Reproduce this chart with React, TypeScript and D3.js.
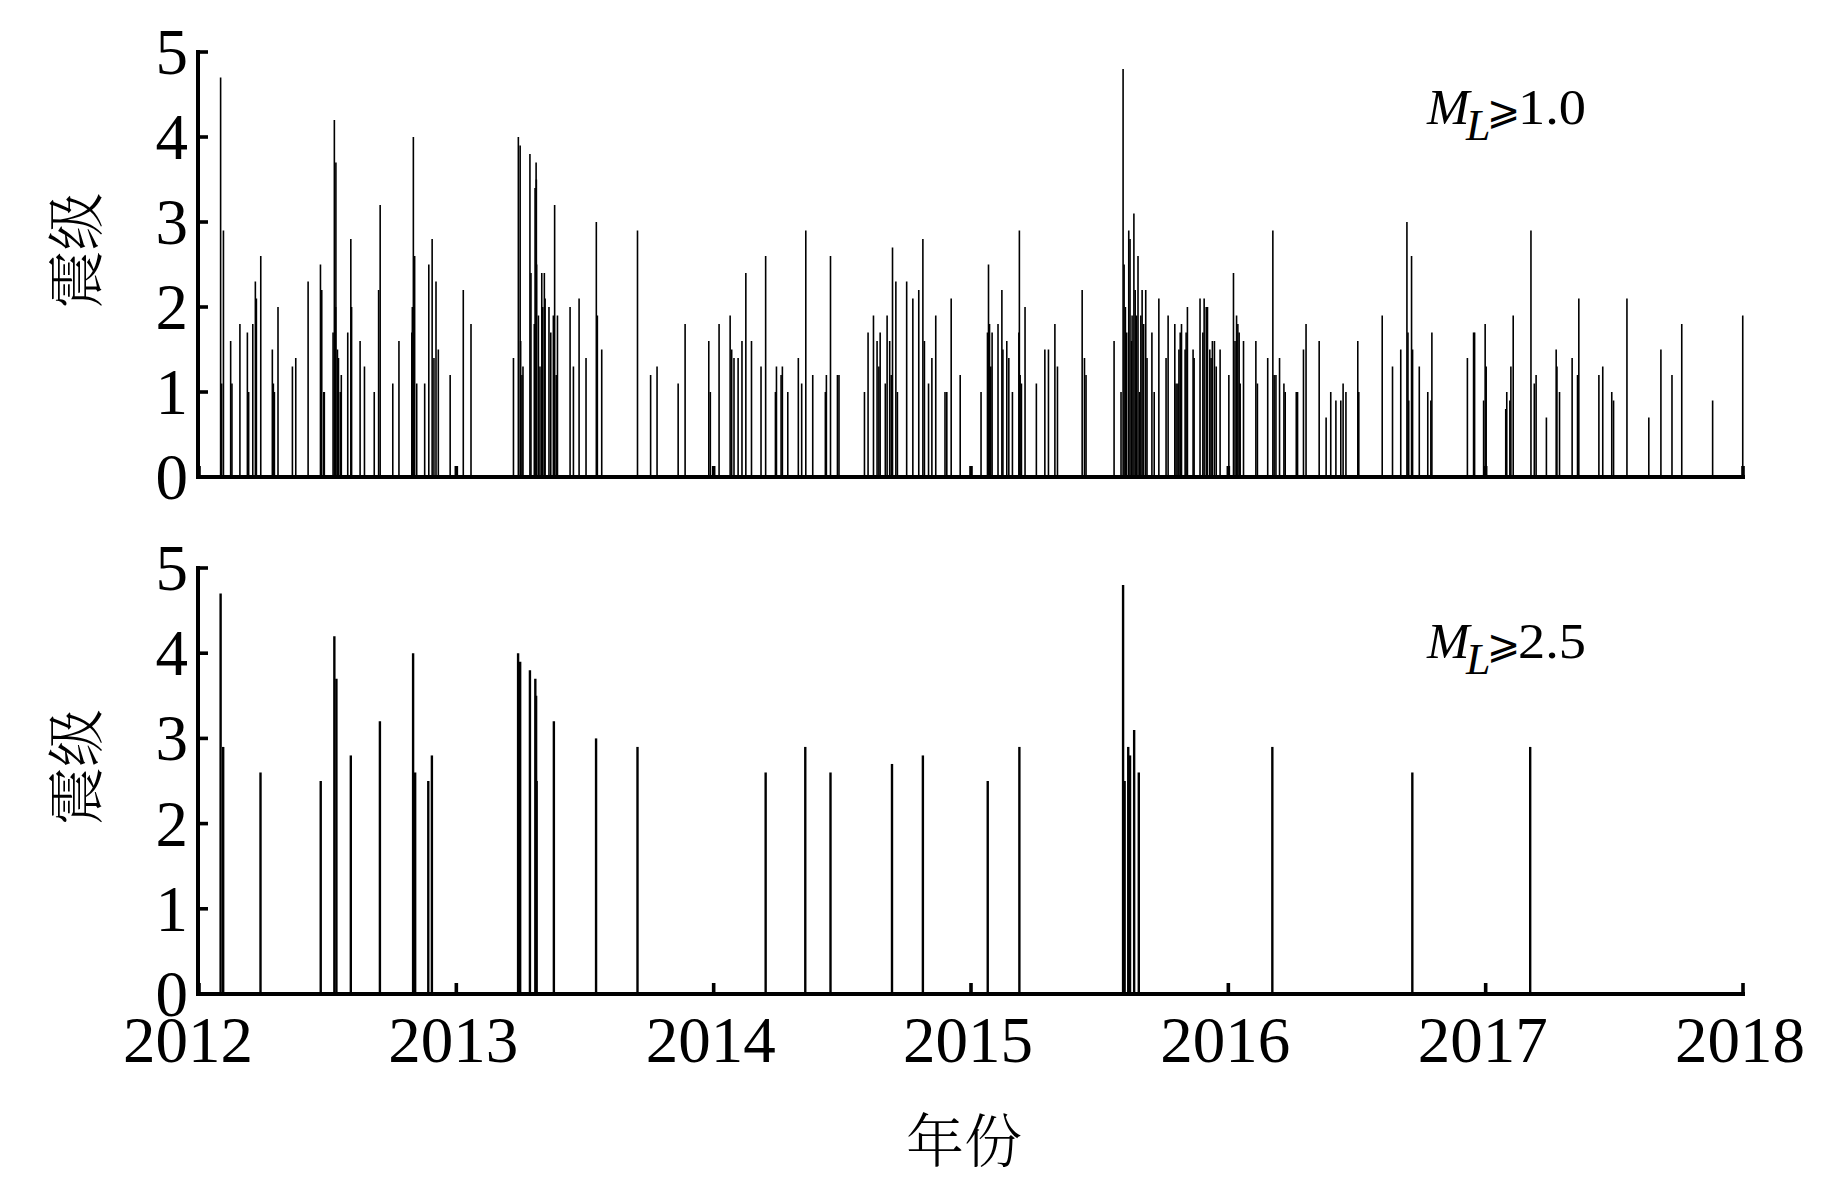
import React from "react";
import * as d3 from "d3";

// ---------- DATA (decimal year, magnitude ML) ----------
const yearTicks = [2012, 2013, 2014, 2015, 2016, 2017, 2018];
const magTicks = [0, 1, 2, 3, 4, 5];

// All events ML >= 1.0 (top panel)
const eventsML10: [number, number][] = [
  [2012.084, 4.7], [2012.088, 1.1], [2012.095, 2.9], [2012.123, 1.6], [2012.128, 1.1], [2012.159, 1.8],
  [2012.188, 1.7], [2012.193, 1.0], [2012.209, 1.8], [2012.219, 2.3], [2012.223, 2.1], [2012.240, 2.6],
  [2012.285, 1.5], [2012.289, 1.1], [2012.293, 1.0], [2012.307, 2.0], [2012.363, 1.3], [2012.376, 1.4],
  [2012.424, 2.3], [2012.472, 2.5], [2012.477, 2.2], [2012.485, 1.0], [2012.487, 1.0], [2012.521, 1.7],
  [2012.526, 4.2], [2012.531, 2.0], [2012.532, 3.7], [2012.538, 1.5], [2012.542, 1.4], [2012.549, 1.0],
  [2012.553, 1.2], [2012.578, 1.7], [2012.590, 2.8], [2012.593, 2.0], [2012.626, 1.6], [2012.643, 1.3],
  [2012.681, 1.0], [2012.698, 2.2], [2012.704, 3.2], [2012.753, 1.1], [2012.777, 1.6], [2012.827, 1.7],
  [2012.829, 2.0], [2012.833, 4.0], [2012.838, 2.6], [2012.846, 1.1], [2012.877, 1.1], [2012.893, 2.5],
  [2012.906, 2.8], [2012.913, 1.4], [2012.921, 2.3], [2012.930, 1.5], [2012.976, 1.2], [2013.027, 2.2],
  [2013.057, 1.8], [2013.222, 1.4], [2013.241, 4.0], [2013.248, 3.9], [2013.250, 1.6], [2013.255, 1.2],
  [2013.259, 1.3], [2013.286, 3.8], [2013.290, 2.4], [2013.303, 1.8], [2013.306, 3.4], [2013.310, 3.7],
  [2013.311, 3.5], [2013.312, 2.5], [2013.319, 1.9], [2013.325, 1.3], [2013.332, 2.4], [2013.336, 2.0],
  [2013.342, 2.4], [2013.345, 2.1], [2013.360, 2.0], [2013.367, 1.7], [2013.377, 1.9], [2013.382, 3.2],
  [2013.388, 1.2], [2013.393, 1.9], [2013.442, 2.0], [2013.455, 1.3], [2013.477, 2.1], [2013.504, 1.4],
  [2013.544, 3.0], [2013.548, 1.9], [2013.565, 1.5], [2013.704, 2.9], [2013.755, 1.2], [2013.780, 1.3],
  [2013.862, 1.1], [2013.889, 1.8], [2013.981, 1.6], [2013.987, 1.0], [2014.021, 1.8], [2014.064, 1.9],
  [2014.070, 1.5], [2014.079, 1.4], [2014.095, 1.4], [2014.110, 1.6], [2014.125, 2.4], [2014.147, 1.6],
  [2014.184, 1.3], [2014.202, 2.6], [2014.240, 1.0], [2014.244, 1.3], [2014.262, 1.2], [2014.267, 1.3],
  [2014.288, 1.0], [2014.329, 1.4], [2014.342, 1.1], [2014.358, 2.9], [2014.385, 1.2], [2014.434, 1.0],
  [2014.438, 1.2], [2014.454, 2.6], [2014.481, 1.2], [2014.487, 1.2], [2014.586, 1.0], [2014.600, 1.7],
  [2014.621, 1.9], [2014.635, 1.6], [2014.642, 1.3], [2014.647, 1.7], [2014.667, 1.1], [2014.674, 1.9],
  [2014.684, 1.6], [2014.690, 1.2], [2014.695, 2.7], [2014.708, 2.3], [2014.714, 1.0], [2014.750, 2.3],
  [2014.774, 2.1], [2014.797, 2.2], [2014.813, 2.8], [2014.819, 1.6], [2014.835, 1.1], [2014.848, 1.4],
  [2014.863, 1.9], [2014.899, 1.0], [2014.906, 1.0], [2014.923, 2.1], [2014.958, 1.2],
  [2015.039, 1.0], [2015.064, 1.7], [2015.068, 2.5], [2015.072, 1.8], [2015.077, 1.3], [2015.082, 1.7],
  [2015.105, 1.8], [2015.120, 2.2], [2015.124, 1.5], [2015.139, 1.6], [2015.147, 1.4], [2015.161, 1.0],
  [2015.186, 1.7], [2015.188, 2.9], [2015.191, 1.2], [2015.196, 1.1], [2015.210, 2.0], [2015.254, 1.1],
  [2015.287, 1.5], [2015.301, 1.5], [2015.326, 1.8], [2015.336, 1.3], [2015.432, 2.2], [2015.441, 1.4],
  [2015.447, 1.2], [2015.556, 1.6], [2015.583, 1.0], [2015.591, 4.8], [2015.595, 2.5], [2015.600, 2.0],
  [2015.605, 1.7], [2015.613, 2.9], [2015.618, 2.8], [2015.624, 1.6], [2015.626, 1.9], [2015.633, 3.1],
  [2015.638, 2.2], [2015.643, 1.9], [2015.649, 2.6], [2015.655, 1.0], [2015.660, 1.9], [2015.665, 2.2],
  [2015.671, 1.8], [2015.679, 2.2], [2015.684, 1.4], [2015.703, 1.7], [2015.712, 1.0], [2015.730, 2.1],
  [2015.758, 1.4], [2015.766, 1.9], [2015.792, 1.8], [2015.797, 1.1], [2015.804, 1.1], [2015.808, 1.5],
  [2015.813, 1.7], [2015.818, 1.8], [2015.832, 1.5], [2015.836, 1.7], [2015.841, 2.0], [2015.863, 1.5],
  [2015.867, 1.4], [2015.890, 2.1], [2015.901, 1.7], [2015.906, 2.1], [2015.914, 2.0], [2015.919, 2.0],
  [2015.928, 1.5], [2015.933, 1.4], [2015.938, 1.6], [2015.946, 1.6], [2015.953, 1.3], [2015.968, 1.5],
  [2016.002, 1.2], [2016.020, 2.4], [2016.026, 1.6], [2016.032, 1.9], [2016.037, 1.8], [2016.042, 1.7],
  [2016.046, 1.1], [2016.059, 1.6], [2016.107, 1.6], [2016.113, 1.1], [2016.153, 1.4], [2016.173, 2.9],
  [2016.178, 1.2], [2016.185, 1.2], [2016.199, 1.4], [2016.216, 1.1], [2016.221, 1.0], [2016.264, 1.0],
  [2016.269, 1.0], [2016.292, 1.5], [2016.302, 1.8], [2016.353, 1.6], [2016.380, 0.7], [2016.398, 1.0],
  [2016.418, 0.9], [2016.437, 0.9], [2016.446, 1.1], [2016.457, 1.0], [2016.503, 1.6], [2016.507, 1.0],
  [2016.598, 1.9], [2016.638, 1.3], [2016.670, 1.5], [2016.694, 3.0], [2016.698, 1.7], [2016.701, 0.9],
  [2016.712, 2.6], [2016.716, 1.5], [2016.742, 1.3], [2016.775, 1.0], [2016.787, 0.9], [2016.791, 1.7],
  [2016.929, 1.4], [2016.953, 1.7], [2016.957, 1.7], [2016.992, 0.9], [2016.998, 1.8], [2017.002, 1.3],
  [2017.078, 0.8], [2017.082, 1.0], [2017.094, 0.9], [2017.098, 1.3], [2017.107, 1.9], [2017.176, 2.9],
  [2017.189, 1.1], [2017.196, 1.2], [2017.236, 0.7], [2017.274, 1.5], [2017.277, 1.3], [2017.287, 1.0],
  [2017.336, 1.4], [2017.357, 1.2], [2017.362, 2.1], [2017.440, 1.2], [2017.455, 1.3], [2017.490, 1.0],
  [2017.497, 0.9], [2017.549, 2.1], [2017.634, 0.7], [2017.681, 1.5], [2017.724, 1.2], [2017.762, 1.8],
  [2017.882, 0.9], [2017.999, 1.9],
];

// Events ML >= 2.5 (bottom panel)
const eventsML25: [number, number][] = [
  [2012.084, 4.7], [2012.094, 2.9], [2012.239, 2.6], [2012.473, 2.5], [2012.526, 4.2], [2012.534, 3.7],
  [2012.590, 2.8], [2012.703, 3.2], [2012.832, 4.0], [2012.840, 2.6], [2012.891, 2.5], [2012.905, 2.8],
  [2013.240, 4.0], [2013.248, 3.9], [2013.286, 3.8], [2013.307, 3.7], [2013.310, 3.5], [2013.312, 2.5],
  [2013.379, 3.2], [2013.543, 3.0], [2013.704, 2.9], [2014.202, 2.6], [2014.356, 2.9], [2014.454, 2.6],
  [2014.693, 2.7], [2014.813, 2.8], [2015.065, 2.5], [2015.188, 2.9], [2015.591, 4.8], [2015.597, 2.5],
  [2015.611, 2.9], [2015.618, 2.8], [2015.634, 3.1], [2015.652, 2.6], [2016.171, 2.9], [2016.715, 2.6],
  [2017.173, 2.9],
];

const panelLabels = ["1.0", "2.5"];
const yTitle = "震级";
const xTitle = "年份";

// ---------- LAYOUT ----------
const W = 1843;
const H = 1181;
const X0 = 199;
const X1 = 1743;
const SERIF = "'Liberation Serif', 'Times New Roman', serif";
const MATH = "'DejaVu Serif', 'DejaVu Sans', 'Liberation Serif', serif";
const CJK = "'Noto Serif CJK SC', 'Noto Sans CJK SC', sans-serif";

const x = d3.scaleLinear().domain([2012, 2018]).range([X0, X1]);

const panels = [
  { data: eventsML10, yTop: 52, yBot: 477, sw: 1.6, label: panelLabels[0], annY: 124 },
  { data: eventsML25, yTop: 568, yBot: 994, sw: 2.4, label: panelLabels[1], annY: 658 },
];

function Panel({ p, showX }: { p: typeof panels[number]; showX: boolean }) {
  const y = d3.scaleLinear().domain([0, 5]).range([p.yBot, p.yTop]);
  const axisW = 4;
  return (
    <g>
      {/* spikes */}
      <g stroke="#000" strokeWidth={p.sw}>
        {p.data.map(([t, m], i) => (
          <line key={i} x1={x(t)} x2={x(t)} y1={y(0)} y2={y(m)} />
        ))}
      </g>
      {/* y axis */}
      <line x1={X0 - 1} x2={X0 - 1} y1={y(0) + 2} y2={y(5) - 2} stroke="#000" strokeWidth={axisW} />
      {magTicks.map((v) => (
        <g key={v}>
          <line x1={X0 - 1} x2={X0 + 9} y1={y(v)} y2={y(v)} stroke="#000" strokeWidth={3.6} />
          <text
            x={188}
            y={y(v) + 22}
            textAnchor="end"
            fontFamily={SERIF}
            fontSize={65}
            fill="#000"
          >
            {v}
          </text>
        </g>
      ))}
      {/* x axis */}
      <line x1={X0 - 3} x2={X1 + 2} y1={y(0)} y2={y(0)} stroke="#000" strokeWidth={axisW} />
      {yearTicks.map((yr) => (
        <g key={yr}>
          <line x1={x(yr)} x2={x(yr)} y1={y(0)} y2={y(0) - 11} stroke="#000" strokeWidth={3.6} />
          {showX && (
            <text
              x={x(yr) - (yr === 2012 ? 11 : 3)}
              y={1062}
              textAnchor="middle"
              fontFamily={SERIF}
              fontSize={65}
              fill="#000"
            >
              {yr}
            </text>
          )}
        </g>
      ))}
      {/* y title */}
      <text
        transform={`translate(72, ${(p.yTop + p.yBot) / 2 - 14}) rotate(-90)`}
        textAnchor="middle"
        dominantBaseline="central"
        fontFamily={CJK}
        fontSize={58}
        fontWeight={300}
        fill="#000"
      >
        {yTitle}
      </text>
      {/* annotation */}
      <g fill="#000">
        <text x={1427} y={p.annY} fontFamily={SERIF} fontSize={51} fontStyle="italic">M</text>
        <text x={1466} y={p.annY + 16} fontFamily={SERIF} fontSize={44} fontStyle="italic">L</text>
        <text x={1487} y={p.annY} fontFamily={MATH} fontSize={40}>⩾</text>
        <text x={1518} y={p.annY} fontFamily={SERIF} fontSize={51} textLength={68} lengthAdjust="spacingAndGlyphs">
          {p.label}
        </text>
      </g>
    </g>
  );
}

export default function App() {
  return (
    <svg
      width={W}
      height={H}
      viewBox={`0 0 ${W} ${H}`}
      style={{ position: "absolute", left: 0, top: 0, background: "#fff" }}
    >
      <rect x={0} y={0} width={W} height={H} fill="#fff" />
      <Panel p={panels[0]} showX={false} />
      <Panel p={panels[1]} showX={true} />
      <text
        x={964}
        y={1162}
        textAnchor="middle"
        fontFamily={CJK}
        fontSize={58}
        fontWeight={300}
        fill="#000"
      >
        {xTitle}
      </text>
    </svg>
  );
}
